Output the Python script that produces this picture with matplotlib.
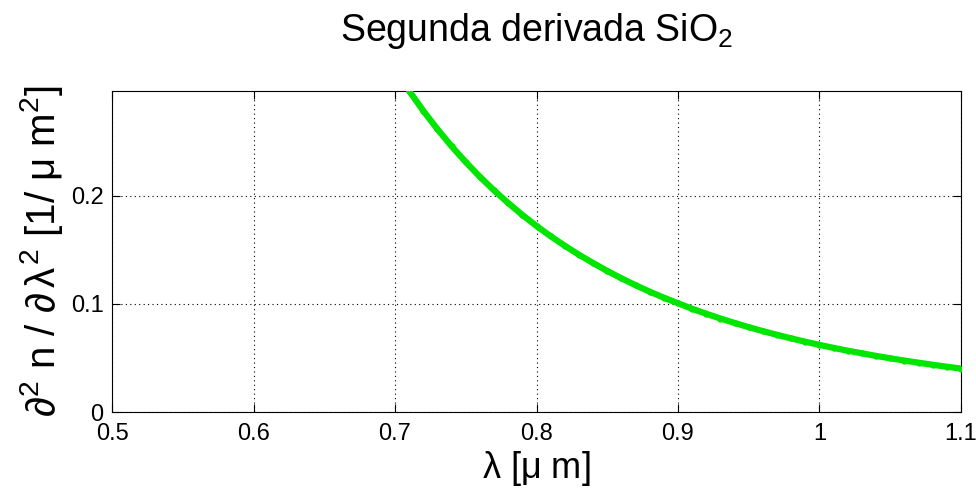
import matplotlib
matplotlib.use("Agg")
import matplotlib.pyplot as plt

plt.rcParams['font.family'] = ['Liberation Sans', 'DejaVu Sans']
plt.rcParams['mathtext.fontset'] = 'custom'
plt.rcParams['mathtext.rm'] = 'Liberation Sans'
plt.rcParams['mathtext.it'] = 'Liberation Sans'
plt.rcParams['mathtext.sf'] = 'Liberation Sans'

# Wavelength [um] and second derivative of refractive index [1/um^2]
wavelength = [0.71, 0.72, 0.73, 0.74, 0.75, 0.76, 0.77, 0.78, 0.79, 0.80,
              0.81, 0.82, 0.83, 0.84, 0.85, 0.86, 0.87, 0.88, 0.89, 0.90,
              0.91, 0.92, 0.93, 0.94, 0.95, 0.96, 0.97, 0.98, 0.99, 1.00,
              1.01, 1.02, 1.03, 1.04, 1.05, 1.06, 1.07, 1.08, 1.09, 1.10]
d2n = [0.2970, 0.2786, 0.2616, 0.2458, 0.2312, 0.2176, 0.2050, 0.1933, 0.1823, 0.1721,
       0.1626, 0.1538, 0.1455, 0.1378, 0.1305, 0.1237, 0.1173, 0.1113, 0.1058, 0.1006,
       0.0955, 0.0909, 0.0865, 0.0824, 0.0785, 0.0748, 0.0714, 0.0681, 0.0650, 0.0621,
       0.0593, 0.0567, 0.0543, 0.0519, 0.0497, 0.0476, 0.0456, 0.0437, 0.0419, 0.0402]

xticks = [0.5, 0.6, 0.7, 0.8, 0.9, 1.0, 1.1]
xticklabels = ['0.5', '0.6', '0.7', '0.8', '0.9', '1', '1.1']
yticks = [0, 0.1, 0.2]
yticklabels = ['0', '0.1', '0.2']

fig = plt.figure(figsize=(9.76, 4.97), dpi=100)
ax = fig.add_axes([0.1148, 0.171, 0.8698, 0.646])

ax.plot(wavelength, d2n, color='#00e600', linewidth=4.5, marker='.',
        markersize=7, solid_capstyle='round', zorder=3)

ax.set_xlim(0.5, 1.1)
ax.set_ylim(0, max(d2n))
ax.set_xticks(xticks)
ax.set_xticklabels(xticklabels)
ax.set_yticks(yticks)
ax.set_yticklabels(yticklabels)

ax.grid(True, color='black', linestyle=(0, (1, 3)), linewidth=0.8)
ax.tick_params(direction='in', length=6, width=0.8, top=True, right=True,
               labelsize=17, colors='black')
ax.tick_params(axis='x', pad=8)
ax.tick_params(axis='y', pad=6)
for s in ax.spines.values():
    s.set_linewidth(0.8)

ax.set_title(r'Segunda derivada SiO$_2$', fontsize=27, pad=36)
ax.set_xlabel(r'$\lambda$ [$\mu$ m]', fontsize=26, labelpad=3)
ax.set_ylabel(r'$\partial^2$ n / $\partial\,\lambda^2$ [1/ $\mu$ m$^2$]', fontsize=29, labelpad=4)

fig.savefig('out.png', dpi=100, facecolor='white')
